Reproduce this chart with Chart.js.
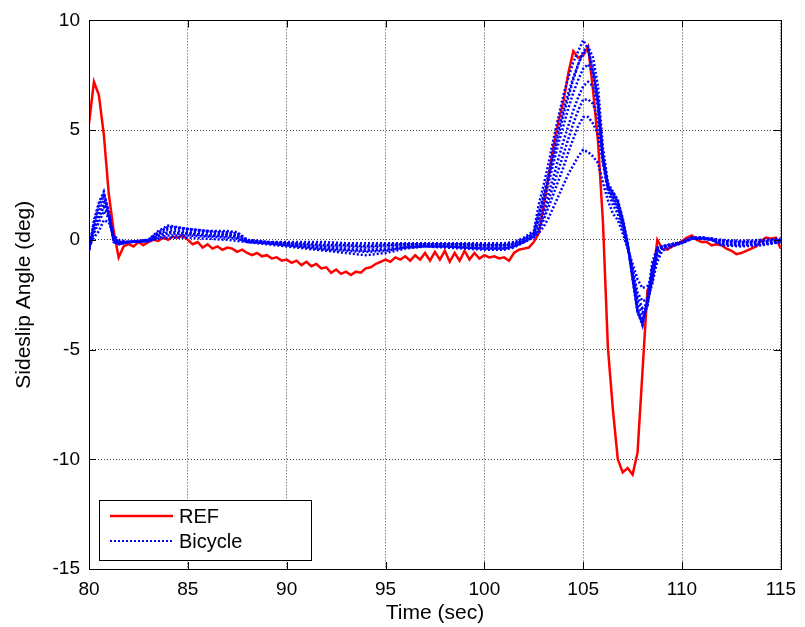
<!DOCTYPE html>
<html>
<head>
<meta charset="utf-8">
<script src="https://cdn.jsdelivr.net/npm/chart.js@4.4.1/dist/chart.umd.min.js"></script>
<style>
  html, body { margin: 0; padding: 0; background: #fff; }
  #wrap { width: 805px; height: 627px; }
</style>
</head>
<body>
<div id="wrap"><canvas id="slipChart" width="805" height="627"></canvas></div>
<script>
// REF trace, sampled every 0.25 s
const refTime = [
  80, 80.25, 80.5, 80.75, 81, 81.25, 81.5, 81.75, 82, 82.25, 82.5, 82.75,
  83, 83.25, 83.5, 83.75, 84, 84.25, 84.5, 84.75, 85, 85.25, 85.5, 85.75,
  86, 86.25, 86.5, 86.75, 87, 87.25, 87.5, 87.75, 88, 88.25, 88.5, 88.75,
  89, 89.25, 89.5, 89.75, 90, 90.25, 90.5, 90.75, 91, 91.25, 91.5, 91.75,
  92, 92.25, 92.5, 92.75, 93, 93.25, 93.5, 93.75, 94, 94.25, 94.5, 94.75,
  95, 95.25, 95.5, 95.75, 96, 96.25, 96.5, 96.75, 97, 97.25, 97.5, 97.75,
  98, 98.25, 98.5, 98.75, 99, 99.25, 99.5, 99.75, 100, 100.25, 100.5, 100.75,
  101, 101.25, 101.5, 101.75, 102, 102.25, 102.5, 102.75, 103, 103.25, 103.5, 103.75,
  104, 104.25, 104.5, 104.75, 105, 105.25, 105.5, 105.75, 106, 106.25, 106.5, 106.75,
  107, 107.25, 107.5, 107.75, 108, 108.25, 108.5, 108.75, 109, 109.25, 109.5, 109.75,
  110, 110.25, 110.5, 110.75, 111, 111.25, 111.5, 111.75, 112, 112.25, 112.5, 112.75,
  113, 113.25, 113.5, 113.75, 114, 114.25, 114.5, 114.75, 115
];
const refAngle = [
  5.3, 7.2, 6.6, 4.8, 2.1, 0.4, -0.8, -0.3, -0.2, -0.3, -0.1, -0.25,
  -0.1, 0.0, -0.05, 0.1, 0.0, 0.15, 0.1, 0.2, 0.0, -0.2, -0.1, -0.35,
  -0.2, -0.4, -0.3, -0.45, -0.35, -0.4, -0.55, -0.45, -0.6, -0.7, -0.6, -0.75,
  -0.7, -0.85, -0.8, -0.95, -0.9, -1.05, -0.95, -1.15, -1.0, -1.2, -1.1, -1.3,
  -1.25, -1.5, -1.35, -1.55, -1.45, -1.6, -1.45, -1.5, -1.3, -1.25, -1.1, -1.0,
  -0.9, -1.0, -0.8, -0.9, -0.75, -0.95, -0.7, -0.9, -0.6, -0.95, -0.55, -0.9,
  -0.5, -1.0, -0.6, -0.95, -0.5, -0.9, -0.6, -0.85, -0.7, -0.8, -0.75, -0.85,
  -0.8, -0.95, -0.6, -0.45, -0.4, -0.35, -0.1, 0.3, 1.5, 2.9, 4.3, 5.4,
  6.3, 7.6, 8.6, 8.3, 8.4, 8.8, 6.8, 4.5, 0.8, -4.9, -7.7, -10.0,
  -10.6, -10.4, -10.7, -9.7, -6.0, -2.3, -1.9, 0.0, -0.4, -0.45, -0.3, -0.2,
  -0.05, 0.1, 0.2, 0.0, -0.1, -0.1, -0.25, -0.2, -0.25, -0.4, -0.5, -0.65,
  -0.6, -0.5, -0.4, -0.3, -0.05, 0.1, 0.05, 0.1, -0.4
];

// Bicycle model runs (several parameter sets), shared time base
const bikeTime = [
  80, 80.25, 80.5, 80.75, 81, 81.25, 81.5, 82,
  83, 83.5, 84, 85, 86, 87, 87.5, 88,
  89, 90, 91, 92, 93, 94, 95, 96, 97, 98, 99, 100, 101,
  101.5, 102, 102.5, 102.75,
  103, 103.25, 103.5, 103.75, 104, 104.25, 104.5, 104.75, 105, 105.25, 105.5, 105.75,
  106, 106.25, 106.5, 106.75, 107, 107.25, 107.5, 107.75, 108, 108.25, 108.5, 108.75, 109,
  109.5, 110, 110.5, 111, 111.5, 112, 113, 114, 115
];
const bike1 = [
  -0.5, 0.9, 1.7, 2.2, 1.2, -0.1, -0.2, -0.1,
  0.0, 0.4, 0.65, 0.5, 0.4, 0.4, 0.35, 0.0,
  -0.1, -0.1, -0.1, -0.1, -0.15, -0.15, -0.15, -0.15, -0.15, -0.15, -0.15, -0.15, -0.15,
  -0.1, 0.1, 0.4, 1.6,
  2.5, 3.5, 4.6, 5.6, 6.6, 7.4, 8.1, 8.6, 9.1, 8.7, 7.6, 6.2,
  3.6, 2.4, 2.2, 1.8, 1.0, -0.1, -1.8, -3.3, -3.9, -2.6, -1.0, -0.35, -0.3,
  -0.2, -0.1, 0.1, 0.1, 0.05, 0.0, -0.05, 0.0, 0.05
];
const bike2 = [
  -0.45, 0.8, 1.5, 2.0, 1.2, -0.1, -0.2, -0.1,
  0.0, 0.35, 0.55, 0.45, 0.35, 0.35, 0.3, 0.0,
  -0.1, -0.15, -0.15, -0.2, -0.2, -0.25, -0.2, -0.2, -0.2, -0.2, -0.2, -0.2, -0.2,
  -0.15, 0.05, 0.3, 1.2,
  2.1, 3.0, 4.0, 5.0, 5.9, 6.7, 7.4, 8.0, 8.5, 8.6, 7.8, 6.4,
  3.8, 2.5, 2.1, 1.7, 0.9, -0.2, -1.7, -3.2, -3.8, -2.8, -1.2, -0.4, -0.3,
  -0.2, -0.1, 0.1, 0.1, 0.05, -0.05, -0.1, -0.05, 0.0
];
const bike3 = [
  -0.4, 0.6, 1.3, 1.8, 1.1, 0.0, -0.15, -0.1,
  -0.05, 0.25, 0.45, 0.35, 0.3, 0.25, 0.2, -0.05,
  -0.1, -0.2, -0.25, -0.3, -0.3, -0.35, -0.3, -0.25, -0.2, -0.2, -0.25, -0.25, -0.25,
  -0.2, 0.0, 0.25, 0.9,
  1.7, 2.6, 3.5, 4.4, 5.2, 6.0, 6.7, 7.3, 7.8, 8.0, 7.6, 6.3,
  3.8, 2.5, 2.0, 1.6, 0.8, -0.3, -1.6, -3.0, -3.6, -3.0, -1.5, -0.5, -0.3,
  -0.2, -0.1, 0.1, 0.1, 0.05, -0.1, -0.15, -0.1, 0.0
];
const bike4 = [
  -0.4, 0.5, 1.1, 1.6, 1.1, 0.1, -0.1, -0.1,
  -0.05, 0.2, 0.35, 0.3, 0.2, 0.2, 0.15, -0.05,
  -0.15, -0.2, -0.3, -0.35, -0.4, -0.45, -0.4, -0.3, -0.25, -0.25, -0.3, -0.3, -0.3,
  -0.25, -0.05, 0.2, 0.6,
  1.3, 2.1, 2.9, 3.7, 4.5, 5.2, 5.9, 6.5, 7.0, 7.2, 7.0, 6.0,
  3.7, 2.4, 1.9, 1.5, 0.7, -0.3, -1.5, -2.8, -3.3, -3.0, -1.7, -0.6, -0.35,
  -0.2, -0.1, 0.05, 0.1, 0.0, -0.15, -0.2, -0.15, -0.05
];
const bike5 = [
  -0.35, 0.3, 0.8, 1.3, 1.0, 0.1, -0.1, -0.1,
  -0.05, 0.1, 0.2, 0.2, 0.15, 0.1, 0.05, -0.1,
  -0.15, -0.25, -0.35, -0.45, -0.5, -0.55, -0.5, -0.35, -0.3, -0.3, -0.35, -0.4, -0.4,
  -0.3, -0.1, 0.15, 0.4,
  0.9, 1.5, 2.1, 2.7, 3.3, 4.0, 4.6, 5.2, 5.6, 5.6, 5.3, 4.8,
  3.5, 2.2, 1.6, 1.2, 0.5, -0.3, -1.3, -2.4, -2.8, -2.7, -2.0, -0.9, -0.4,
  -0.25, -0.15, 0.05, 0.05, 0.0, -0.2, -0.25, -0.2, -0.1
];
const bike6 = [
  -0.3, 0.1, 0.4, 0.9, 0.8, 0.2, 0.0, -0.1,
  -0.05, 0.05, 0.1, 0.1, 0.05, 0.0, -0.05, -0.1,
  -0.2, -0.3, -0.4, -0.5, -0.6, -0.7, -0.6, -0.4, -0.3, -0.35, -0.4, -0.45, -0.45,
  -0.35, -0.1, 0.1, 0.3,
  0.6, 1.0, 1.5, 2.0, 2.5, 3.0, 3.4, 3.8, 4.1, 4.0, 3.8, 3.5,
  2.6, 1.8, 1.2, 0.9, 0.3, -0.4, -1.1, -1.8, -2.2, -2.1, -1.7, -1.0, -0.5,
  -0.3, -0.15, 0.05, 0.05, 0.0, -0.25, -0.3, -0.25, -0.1
];
const bike7 = [
  -0.45, 0.7, 1.6, 2.1, 1.3, 0.0, -0.2, -0.1,
  -0.05, 0.3, 0.6, 0.5, 0.4, 0.3, 0.3, -0.05,
  -0.1, -0.15, -0.2, -0.25, -0.25, -0.3, -0.25, -0.2, -0.2, -0.2, -0.2, -0.25, -0.25,
  -0.2, 0.0, 0.3, 1.0,
  1.9, 2.8, 3.8, 4.8, 5.7, 6.5, 7.3, 8.0, 8.6, 8.8, 8.3, 7.0,
  4.2, 2.6, 2.2, 1.8, 0.9, -0.2, -1.8, -3.3, -3.8, -2.9, -1.3, -0.45, -0.3,
  -0.2, -0.1, 0.1, 0.1, 0.05, -0.05, -0.1, -0.1, 0.0
];
const bike8 = [
  -0.4, 0.4, 1.0, 1.5, 1.1, 0.1, -0.1, -0.1,
  -0.05, 0.15, 0.3, 0.25, 0.2, 0.15, 0.1, -0.1,
  -0.15, -0.25, -0.3, -0.4, -0.45, -0.5, -0.45, -0.35, -0.25, -0.3, -0.3, -0.35, -0.35,
  -0.3, -0.1, 0.15, 0.5,
  1.1, 1.8, 2.5, 3.2, 3.9, 4.6, 5.3, 5.9, 6.4, 6.4, 6.2, 5.5,
  3.6, 2.3, 1.8, 1.4, 0.6, -0.3, -1.4, -2.6, -3.1, -2.9, -1.8, -0.7, -0.35,
  -0.2, -0.1, 0.05, 0.1, 0.0, -0.15, -0.2, -0.15, -0.05
];
const bikeRuns = [bike1, bike7, bike2, bike3, bike4, bike8, bike5, bike6];

const xTicks = [80, 85, 90, 95, 100, 105, 110, 115];
const yTicks = [-15, -10, -5, 0, 5, 10];
const legendLabels = ["REF", "Bicycle"];

const FONT = '"Liberation Sans", Arial, Helvetica, sans-serif';

function toPoints(times, values) {
  return times.map((t, i) => ({ x: t, y: values[i] }));
}

// frame, inward ticks and the boxed legend inside the axes
const axesDecor = {
  id: "axesDecor",
  afterDatasetsDraw(chart) {
    const { ctx, chartArea: a, scales } = chart;
    const tick = 7;
    ctx.save();
    ctx.strokeStyle = "#000";
    ctx.lineWidth = 1;
    ctx.beginPath();
    xTicks.forEach((v) => {
      const px = Math.round(scales.x.getPixelForValue(v)) + 0.5;
      ctx.moveTo(px, a.bottom); ctx.lineTo(px, a.bottom - tick);
      ctx.moveTo(px, a.top); ctx.lineTo(px, a.top + tick);
    });
    yTicks.forEach((v) => {
      const py = Math.round(scales.y.getPixelForValue(v)) + 0.5;
      ctx.moveTo(a.left, py); ctx.lineTo(a.left + tick, py);
      ctx.moveTo(a.right, py); ctx.lineTo(a.right - tick, py);
    });
    ctx.stroke();
    ctx.strokeRect(Math.round(a.left) + 0.5, Math.round(a.top) + 0.5,
      Math.round(a.right - a.left), Math.round(a.bottom - a.top));

    // legend box
    const bx = a.left + 10, by = a.bottom - 69, bw = 212, bh = 60;
    ctx.fillStyle = "#fff";
    ctx.fillRect(bx, by, bw, bh);
    ctx.strokeRect(Math.round(bx) + 0.5, Math.round(by) + 0.5, bw, bh);

    ctx.lineWidth = 2.5;
    ctx.strokeStyle = "#ff0000";
    ctx.beginPath();
    ctx.moveTo(bx + 11, by + 16); ctx.lineTo(bx + 74, by + 16);
    ctx.stroke();

    ctx.lineWidth = 2;
    ctx.strokeStyle = "#0000ff";
    ctx.setLineDash([2, 2]);
    ctx.beginPath();
    ctx.moveTo(bx + 11, by + 41); ctx.lineTo(bx + 74, by + 41);
    ctx.stroke();
    ctx.setLineDash([]);

    ctx.fillStyle = "#000";
    ctx.font = "20px " + FONT;
    ctx.textBaseline = "middle";
    ctx.textAlign = "left";
    ctx.fillText(legendLabels[0], bx + 80, by + 17);
    ctx.fillText(legendLabels[1], bx + 80, by + 42);
    ctx.restore();
  },
};

const datasets = bikeRuns.map((run, i) => ({
  label: i === 0 ? legendLabels[1] : legendLabels[1] + " " + (i + 1),
  data: toPoints(bikeTime, run),
  borderColor: "#0000ff",
  borderWidth: 2.5,
  borderDash: [2, 2],
  pointRadius: 0,
  tension: 0,
  fill: false,
}));
datasets.push({
  label: legendLabels[0],
  data: toPoints(refTime, refAngle),
  borderColor: "#ff0000",
  borderWidth: 2.5,
  pointRadius: 0,
  tension: 0,
  fill: false,
});

new Chart(document.getElementById("slipChart"), {
  type: "line",
  data: { datasets: datasets },
  options: {
    responsive: false,
    animation: false,
    devicePixelRatio: 1,
    layout: { padding: { top: 19, right: 21, left: 0, bottom: 0 } },
    plugins: {
      legend: { display: false },
      tooltip: { enabled: false },
    },
    scales: {
      x: {
        type: "linear",
        min: 80,
        max: 115,
        afterBuildTicks: (s) => { s.ticks = xTicks.map((v) => ({ value: v })); },
        afterFit: (s) => { s.height = 58; },
        grid: { color: "#404040", lineWidth: 1, drawTicks: false },
        border: { display: false, dash: [1, 2] },
        ticks: {
          color: "#000",
          padding: 9,
          maxRotation: 0,
          font: { family: FONT, size: 19 },
        },
        title: {
          display: true,
          text: "Time (sec)",
          color: "#000",
          font: { family: FONT, size: 21 },
          padding: { top: 0, bottom: 1 },
        },
      },
      y: {
        min: -15,
        max: 10,
        afterBuildTicks: (s) => { s.ticks = yTicks.map((v) => ({ value: v })); },
        afterFit: (s) => { s.width = 89; },
        grid: { color: "#404040", lineWidth: 1, drawTicks: false },
        border: { display: false, dash: [1, 2] },
        ticks: {
          color: "#000",
          padding: 9,
          font: { family: FONT, size: 19 },
        },
        title: {
          display: true,
          text: "Sideslip Angle (deg)",
          color: "#000",
          font: { family: FONT, size: 21 },
          padding: { top: 12, bottom: 0 },
        },
      },
    },
  },
  plugins: [axesDecor],
});
</script>
</body>
</html>
